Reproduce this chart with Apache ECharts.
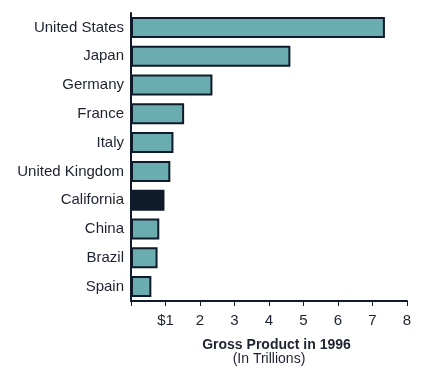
<!DOCTYPE html>
<html><head><meta charset="utf-8">
<script src="https://cdn.jsdelivr.net/npm/echarts@6/dist/echarts.min.js"></script>
<style>html,body{margin:0;padding:0;background:#fff}#c{width:427px;height:371px}</style>
</head><body><div id="c"></div>
<script>
const categories = ['United States','Japan','Germany','France','Italy','United Kingdom','California','China','Brazil','Spain'];
const values = [7.36, 4.62, 2.36, 1.54, 1.23, 1.14, 0.97, 0.82, 0.77, 0.59];
const highlight = 'California';
const xTicks = [0,1,2,3,4,5,6,7,8];
const axisTitle = 'Gross Product in 1996';
const axisSub = '(In Trillions)';

const dark = '#0f1b2a';
const font = 'Liberation Sans, Arial, sans-serif';
const chart = echarts.init(document.getElementById('c'), null, {renderer:'canvas'});
chart.setOption({
  animation:false,
  backgroundColor:'#fff',
  grid:{left:131,right:20,top:13,bottom:69,containLabel:false},
  xAxis:{type:'value',min:xTicks[0],max:xTicks[xTicks.length-1],interval:1,
    axisLine:{show:true,lineStyle:{color:dark,width:2}},
    axisTick:{show:true,length:5,lineStyle:{color:dark,width:1}},
    splitLine:{show:false},
    axisLabel:{margin:12,fontSize:15,color:'#1c2230',fontFamily:font,
      formatter:v=> v===0?'':(v===1?'$1':String(v))},
    name:'{a|'+axisTitle+'}\n{b|'+axisSub+'}',nameLocation:'middle',nameGap:37,
    nameTextStyle:{rich:{
      a:{fontSize:14,fontWeight:'bold',color:'#1c2230',fontFamily:font,lineHeight:14,padding:[0,0,0,15]},
      b:{fontSize:14,color:'#1c2230',fontFamily:font,lineHeight:14}}}
  },
  yAxis:{type:'category',data:categories,inverse:true,
    axisLine:{show:true,lineStyle:{color:dark,width:2}},
    axisTick:{show:false},
    axisLabel:{margin:7,fontSize:15,color:'#1c2230',fontFamily:font}
  },
  series:[{type:'bar',barWidth:21,
    data:values.map((v,i)=>({value:v,itemStyle:{color:categories[i]===highlight?dark:'#6aacb0'}})),
    itemStyle:{borderColor:dark,borderWidth:2}
  }]
});
</script></body></html>
